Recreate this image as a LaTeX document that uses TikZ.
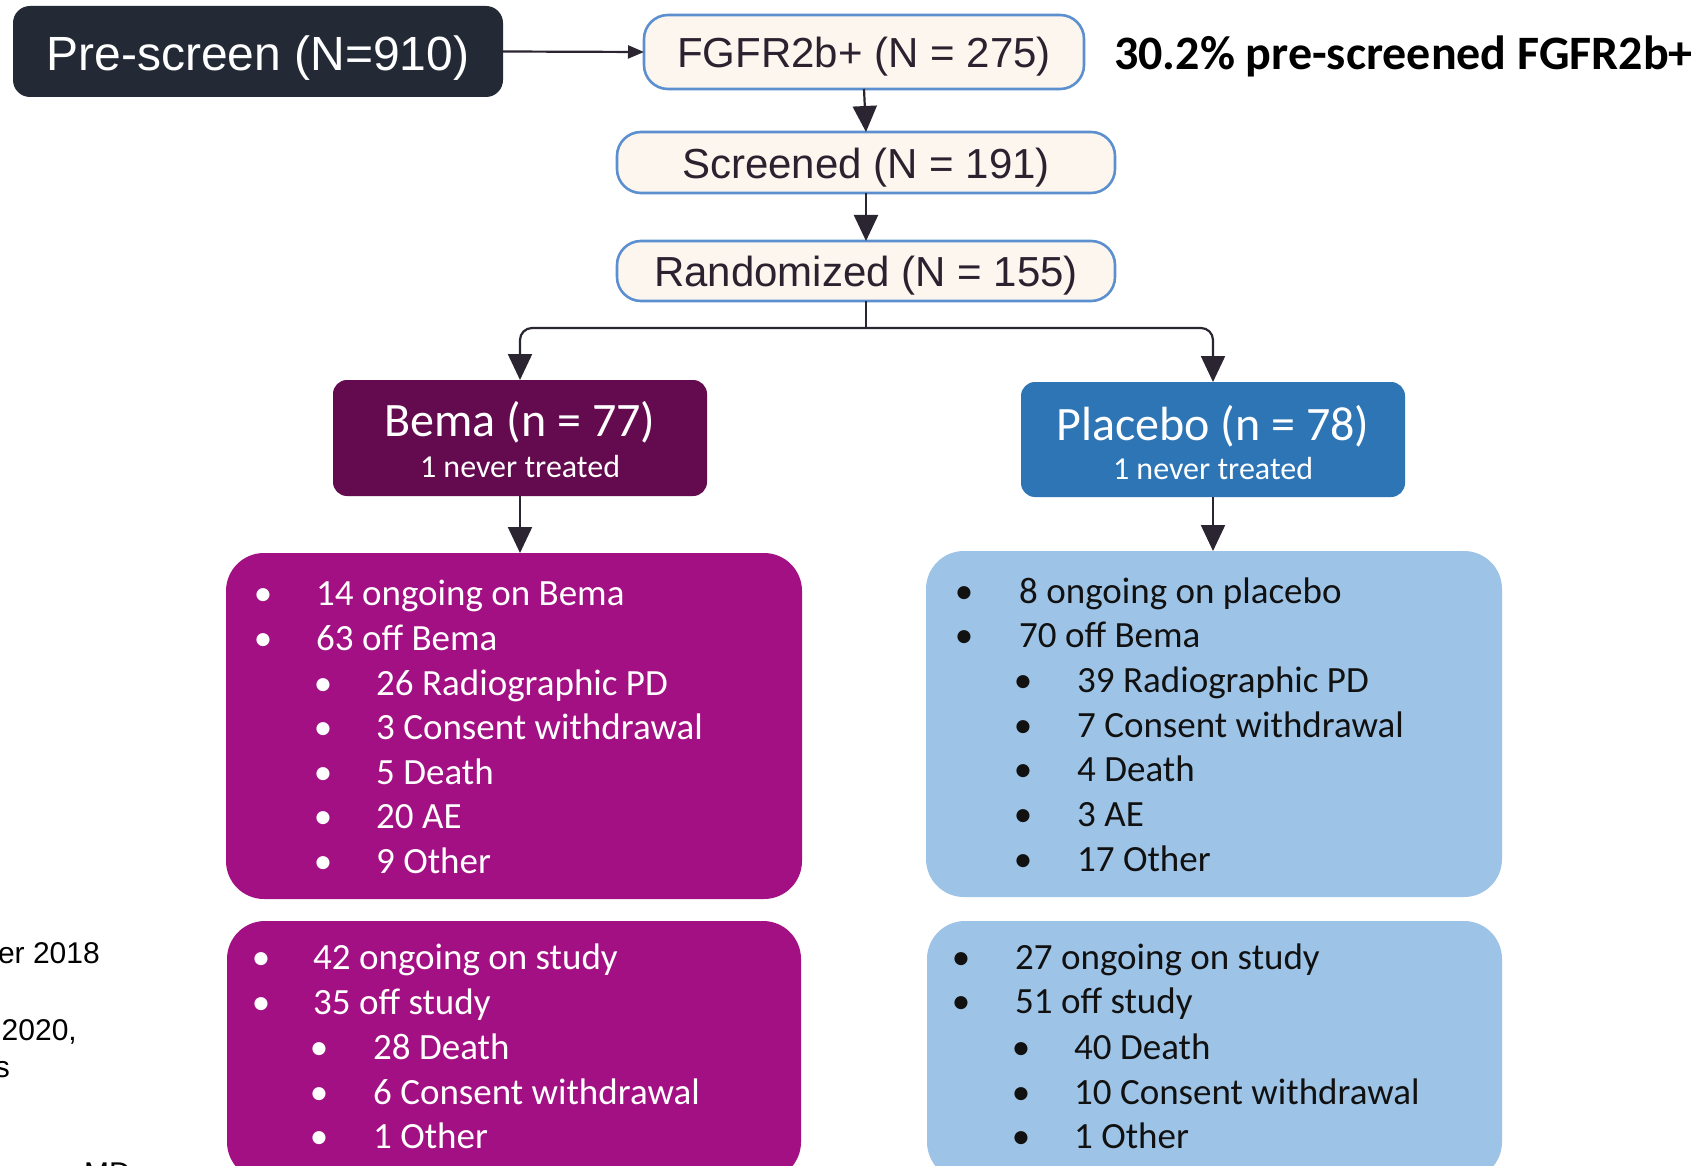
\documentclass[tikz,border=0pt]{standalone}
\usepackage{fontspec}
\setmainfont{Liberation Sans}
\newfontfamily\calfont{Carlito}
\usetikzlibrary{arrows.meta}
\definecolor{darkbox}{HTML}{232A36}
\definecolor{creamfill}{HTML}{FDF6EF}
\definecolor{creamline}{HTML}{5B8FD0}
\definecolor{creamtext}{HTML}{2B2230}
\definecolor{bemadark}{HTML}{640A4E}
\definecolor{bemalist}{HTML}{A31083}
\definecolor{plchead}{HTML}{2E75B6}
\definecolor{plclist}{HTML}{9DC3E6}
\definecolor{arrowc}{HTML}{2A2530}
\definecolor{darktext}{HTML}{111111}
\newcommand{\litem}[5]{%
  \node[bul] (#1b) at (#2,#4) {•};
  \node[itm] (#1) at (#3,#4) {#5};}
\begin{document}
\begin{tikzpicture}[x=1pt,y=-1pt,
  shapebox/.style={rectangle, inner sep=0, outer sep=0},
  pbox/.style={shapebox, fill=darkbox, rounded corners=17pt},
  cbox/.style={shapebox, draw=creamline, line width=2.6pt, fill=creamfill, rounded corners=24pt},
  hbox/.style={shapebox, rounded corners=14pt},
  lbox/.style={shapebox, rounded corners=38pt},
  basetxt/.style={anchor=base, inner sep=0},
  conn/.style={draw=arrowc, line width=2.2pt},
  tip/.style={-{Triangle[length=26pt,width=24pt]}},
  bul/.style={anchor=base, inner sep=0, font=\calfont\fontsize{37}{44}\selectfont},
  itm/.style={anchor=base west, inner sep=0, font=\calfont\fontsize{37}{44}\selectfont},
  frag/.style={inner sep=0, font=\fontsize{30}{36}\selectfont, text=black}]
\useasboundingbox (0,0) rectangle (1703,1166);
\clip (0,0) rectangle (1703,1166);
\fill[white] (0,0) rectangle (1703,1166);

% top chain
\node[pbox, minimum width=490pt, minimum height=91pt] (pre) at (258,51.5) {};
\node[basetxt, text=white, font=\fontsize{48}{57}\selectfont] (pretxt) at (258,71) {Pre-screen (N=910)};

\node[cbox, minimum width=440pt, minimum height=74pt] (fgfr) at (864,52) {};
\node[basetxt, text=creamtext, font=\fontsize{42}{50}\selectfont] (fgfrtxt) at (864,68) {FGFR2b+ (N = 275)};

\node[anchor=base west, inner sep=0, font=\calfont\bfseries\fontsize{48}{57}\selectfont] (pct) at (1114,70) {30.2\% pre-screened FGFR2b+};

\node[cbox, minimum width=498pt, minimum height=61pt] (scr) at (866,162.5) {};
\node[basetxt, text=creamtext, font=\fontsize{42}{50}\selectfont] (scrtxt) at (866,179) {Screened (N = 191)};

\node[cbox, minimum width=498pt, minimum height=60pt] (rand) at (866,271) {};
\node[basetxt, text=creamtext, font=\fontsize{42}{50}\selectfont] (randtxt) at (866,287) {Randomized (N = 155)};

% arm headers
\node[hbox, fill=bemadark, minimum width=374pt, minimum height=116pt] (bema) at (520,438) {};
\node[inner sep=0, text=white, font=\calfont\fontsize{48}{57}\selectfont] (bematitle) at (520,422) {Bema (n = 77)};
\node[basetxt, text=white, font=\calfont\fontsize{32}{38}\selectfont] (bemasub) at (520,477) {1 never treated};

\node[hbox, fill=plchead, minimum width=384pt, minimum height=115pt] (plc) at (1213,439.5) {};
\node[inner sep=0, text=white, font=\calfont\fontsize{48}{57}\selectfont] (plctitle) at (1213,426) {Placebo (n = 78)};
\node[basetxt, text=white, font=\calfont\fontsize{32}{38}\selectfont] (plcsub) at (1213,479) {1 never treated};

% list boxes
\node[lbox, fill=bemalist, minimum width=576pt, minimum height=346pt] (bemal) at (514,726) {};
\node[lbox, fill=plclist, minimum width=576pt, minimum height=346pt] (plcl) at (1214,724) {};
\node[lbox, fill=bemalist, minimum width=574pt, minimum height=259pt] (bemas) at (514,1050.5) {};
\node[lbox, fill=plclist, minimum width=575pt, minimum height=259pt] (plcs) at (1214.5,1050.5) {};

% connectors
\draw[conn, -{Triangle[length=16pt,width=13pt]}] (pre.east) -- (fgfr.west);
\draw[conn, tip] (fgfr.south) -- (scr.north);
\draw[conn, tip] (scr.south) -- (rand.north);
\coordinate (split) at (866,328);
\draw[conn] (rand.south) -- (split);
\draw[conn, tip, rounded corners=12pt] (split) -| (bema.north);
\draw[conn, tip, rounded corners=12pt] (split) -| (plc.north);
\draw[conn, tip] (bema.south) -- (bema.south |- bemal.north);
\draw[conn, tip] (plc.south) -- (plc.south |- plcl.north);

% list contents
\begin{scope}[text=white]
\litem{bl1}{263}{316}{605}{14 ongoing on Bema}
\litem{bl2}{263}{316}{650}{63 off Bema}
\litem{bl3}{323}{376}{695}{26 Radiographic PD}
\litem{bl4}{323}{376}{739}{3 Consent withdrawal}
\litem{bl5}{323}{376}{784}{5 Death}
\litem{bl6}{323}{376}{828}{20 AE}
\litem{bl7}{323}{376}{873}{9 Other}
\litem{bs1}{261}{313}{969}{42 ongoing on study}
\litem{bs2}{261}{313}{1014}{35 off study}
\litem{bs3}{319}{373}{1059}{28 Death}
\litem{bs4}{319}{373}{1104}{6 Consent withdrawal}
\litem{bs5}{319}{373}{1148}{1 Other}
\end{scope}
\begin{scope}[text=darktext]
\litem{pl1}{964}{1019}{603}{8 ongoing on placebo}
\litem{pl2}{964}{1019}{647}{70 off Bema}
\litem{pl3}{1023}{1077}{692}{39 Radiographic PD}
\litem{pl4}{1023}{1077}{737}{7 Consent withdrawal}
\litem{pl5}{1023}{1077}{781}{4 Death}
\litem{pl6}{1023}{1077}{826}{3 AE}
\litem{pl7}{1023}{1077}{871}{17 Other}
\litem{ps1}{961}{1015}{969}{27 ongoing on study}
\litem{ps2}{961}{1015}{1013}{51 off study}
\litem{ps3}{1021}{1074}{1059}{40 Death}
\litem{ps4}{1021}{1074}{1104}{10 Consent withdrawal}
\litem{ps5}{1021}{1074}{1148}{1 Other}
\end{scope}

% clipped fragments at left edge
\node[frag, anchor=base east] (f1) at (100,963) {er 2018};
\node[frag, anchor=base east] (f2) at (77,1040) {2020,};
\node[frag, anchor=base east] (f3) at (10,1077) {s};
\node[frag, anchor=base west] (f4) at (84,1183) {MD};
\end{tikzpicture}
\end{document}
